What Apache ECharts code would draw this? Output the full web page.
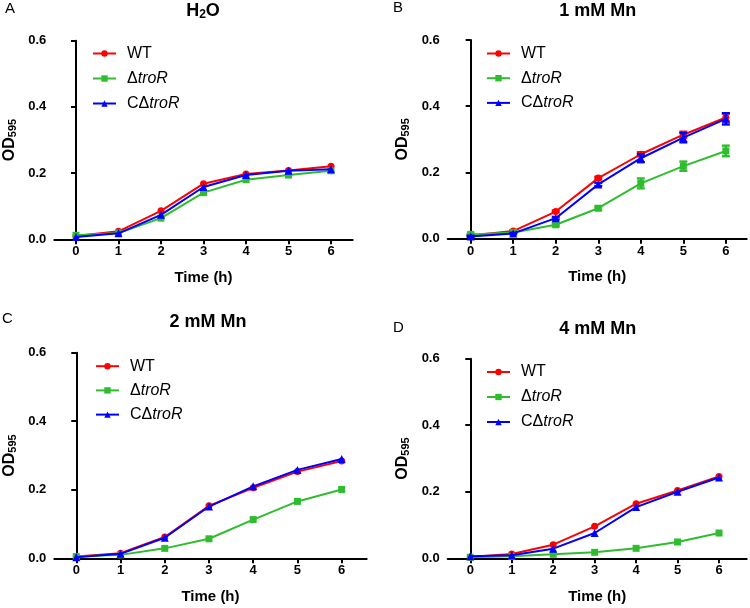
<!DOCTYPE html>
<html>
<head>
<meta charset="utf-8">
<script src="https://cdn.jsdelivr.net/npm/echarts@6/dist/echarts.min.js"></script>
<style>html,body{margin:0;padding:0;background:#fff;}#c{width:750px;height:608px;}</style>
</head>
<body>
<div id="c"></div>
<script>
// ---- data ----
const hours = [0, 1, 2, 3, 4, 5, 6];
const yTicks = [0, 0.2, 0.4, 0.6];
const strainNames = ['WT', 'ΔtroR', 'CΔtroR'];
const panelLetters = ['A', 'B', 'C', 'D'];
const panelTitles = ['H2O', '1 mM Mn', '2 mM Mn', '4 mM Mn'];

const h2oWT   = [0.010, 0.024, 0.086, 0.168, 0.197, 0.208, 0.221];
const h2oDel  = [0.012, 0.019, 0.064, 0.141, 0.180, 0.194, 0.207];
const h2oComp = [0.007, 0.018, 0.074, 0.158, 0.194, 0.207, 0.212];

const mn1WT   = [0.010, 0.023, 0.082, 0.183, 0.255, 0.314, 0.366];
const mn1Del  = [0.013, 0.019, 0.042, 0.092, 0.167, 0.219, 0.265];
const mn1Comp = [0.007, 0.016, 0.062, 0.164, 0.243, 0.305, 0.362];
const mn1WTErr   = [0.002, 0.002, 0.003, 0.004, 0.006, 0.009, 0.012];
const mn1DelErr  = [0.002, 0.002, 0.004, 0.005, 0.015, 0.014, 0.016];
const mn1CompErr = [0.002, 0.002, 0.004, 0.005, 0.012, 0.014, 0.017];

const mn2WT   = [0.005, 0.015, 0.062, 0.153, 0.206, 0.253, 0.284];
const mn2Del  = [0.005, 0.010, 0.029, 0.057, 0.113, 0.166, 0.201];
const mn2Comp = [0.003, 0.013, 0.060, 0.151, 0.210, 0.258, 0.290];

const mn4WT   = [0.004, 0.013, 0.041, 0.096, 0.164, 0.204, 0.246];
const mn4Del  = [0.003, 0.006, 0.012, 0.018, 0.030, 0.049, 0.076];
const mn4Comp = [0.006, 0.009, 0.029, 0.076, 0.154, 0.200, 0.243];

// ---- layout / style ----
const colors = ['#ff0000', '#2fbd2f', '#0000ff'];
const symbols = ['circle', 'rect', 'triangle'];
const symbolSizes = [7, 7, 8];
const grids = [
  {left: 54.3, top: 40.7, width: 298.4, height: 198.6, xmin: -0.51, xmax: 6.51},
  {left: 447.7, top: 40, width: 299, height: 198.7, xmin: -0.54, xmax: 6.49},
  {left: 54.3, top: 352.7, width: 312.4, height: 205.6, xmin: -0.497, xmax: 6.566},
  {left: 447.7, top: 358.7, width: 299, height: 199.6, xmin: -0.545, xmax: 6.668}
];
const legendPos = [
  {left: 92, top: 45.5, gap: 9},
  {left: 486, top: 45.5, gap: 8.7},
  {left: 95, top: 358.2, gap: 8.2},
  {left: 486, top: 364, gap: 9}
];
const titlePos = [[203, 11], [597.7, 11], [208, 321.7], [597.7, 329.3]];
const letterPos = [[5, 9], [393, 8], [2, 319], [393, 327.5]];

const panelData = [
  [h2oWT, h2oDel, h2oComp],
  [mn1WT, mn1Del, mn1Comp],
  [mn2WT, mn2Del, mn2Comp],
  [mn4WT, mn4Del, mn4Comp]
];
const panelErr = [null, [mn1WTErr, mn1DelErr, mn1CompErr], null, null];

const boldFont = 'Liberation Sans';
const option = {
  animation: false,
  backgroundColor: '#fff',
  grid: [], xAxis: [], yAxis: [], series: [], legend: [], graphic: []
};

grids.forEach((g, p) => {
  option.grid.push({left: g.left, top: g.top, width: g.width, height: g.height, containLabel: false});
  option.xAxis.push({
    type: 'value', gridIndex: p, min: g.xmin, max: g.xmax,
    name: 'Time (h)', nameLocation: 'middle', nameGap: 31,
    nameTextStyle: {fontFamily: boldFont, fontWeight: 'bold', fontSize: 15, color: '#000'},
    axisLine: {show: true, onZero: false, lineStyle: {color: '#000', width: 2}},
    axisTick: {show: true, length: 5, lineStyle: {color: '#000', width: 2}, customValues: hours},
    axisLabel: {customValues: hours, margin: 6, fontFamily: boldFont, fontWeight: 'bold', fontSize: 13, color: '#000'},
    splitLine: {show: false}
  });
  option.yAxis.push({
    type: 'value', gridIndex: p, min: 0, max: 0.6, interval: 0.2,
    name: '{a|OD}{b|595}', nameLocation: 'middle', nameRotate: 90, nameGap: 36,
    nameTextStyle: {
      color: '#000',
      rich: {
        a: {fontFamily: boldFont, fontWeight: 'bold', fontSize: 16, color: '#000'},
        b: {fontFamily: boldFont, fontWeight: 'bold', fontSize: 11, color: '#000', padding: [7, 0, 0, 0]}
      }
    },
    axisLine: {show: true, lineStyle: {color: '#000', width: 2}},
    axisTick: {show: true, length: 5, lineStyle: {color: '#000', width: 2}},
    axisLabel: {margin: 8, fontFamily: boldFont, fontWeight: 'bold', fontSize: 13, color: '#000',
      formatter: v => v.toFixed(1)},
    splitLine: {show: false}
  });
  panelData[p].forEach((vals, s) => {
    option.series.push({
      type: 'line', name: strainNames[s], xAxisIndex: p, yAxisIndex: p,
      data: hours.map((h, i) => [h, vals[i]]),
      symbol: symbols[s], symbolSize: symbolSizes[s],
      lineStyle: {color: colors[s], width: 2},
      itemStyle: {color: colors[s]},
      z: 2 + s
    });
    if (panelErr[p]) {
      const errs = panelErr[p][s];
      const col = colors[s];
      option.series.push({
        type: 'custom', name: strainNames[s] + ' err', xAxisIndex: p, yAxisIndex: p,
        data: hours.map((h, i) => [h, vals[i], errs[i]]),
        encode: {x: 0, y: 1},
        z: 2 + s,
        renderItem: function (params, api) {
          const x = api.value(0), y = api.value(1), e = api.value(2);
          const t = api.coord([x, y + e]);
          const b = api.coord([x, y - e]);
          const hw = 4;
          const st = {stroke: col, lineWidth: 2.4};
          return {type: 'group', children: [
            {type: 'line', shape: {x1: t[0], y1: t[1], x2: b[0], y2: b[1]}, style: st},
            {type: 'line', shape: {x1: t[0] - hw, y1: t[1], x2: t[0] + hw, y2: t[1]}, style: st},
            {type: 'line', shape: {x1: b[0] - hw, y1: b[1], x2: b[0] + hw, y2: b[1]}, style: st}
          ]};
        }
      });
    }
  });
  const lp = legendPos[p];
  option.legend.push({
    orient: 'vertical', left: lp.left, top: lp.top, itemGap: lp.gap, padding: 0,
    itemWidth: 23, itemHeight: 8, selectedMode: false,
    data: strainNames,
    formatter: function (name) {
      if (name === 'WT') return '{n|WT}';
      if (name === 'ΔtroR') return '{n|Δ}{i|troR}';
      return '{n|CΔ}{i|troR}';
    },
    textStyle: {
      color: '#000', padding: [0, 0, 0, 6],
      rich: {
        n: {fontFamily: 'Liberation Sans', fontSize: 16, color: '#000', lineHeight: 18},
        i: {fontFamily: 'Liberation Sans', fontSize: 16, fontStyle: 'italic', color: '#000', lineHeight: 18}
      }
    }
  });
  const title = p === 0 ? '{a|H}{b|2}{a|O}' : '{a|' + panelTitles[p] + '}';
  option.graphic.push({
    type: 'text', x: titlePos[p][0], y: titlePos[p][1],
    style: {
      text: title, textAlign: 'center', textVerticalAlign: 'middle',
      rich: {
        a: {fontFamily: boldFont, fontWeight: 'bold', fontSize: 18, fill: '#000'},
        b: {fontFamily: boldFont, fontWeight: 'bold', fontSize: 12, fill: '#000', padding: [8, 0, 0, 0]}
      }
    }
  });
  option.graphic.push({
    type: 'text', x: letterPos[p][0], y: letterPos[p][1],
    style: {text: panelLetters[p], textAlign: 'left', textVerticalAlign: 'middle',
      font: '15px "Liberation Sans"', fill: '#000'}
  });
});

const chart = echarts.init(document.getElementById('c'), null, {renderer: 'canvas'});
chart.setOption(option);
</script>
</body>
</html>
